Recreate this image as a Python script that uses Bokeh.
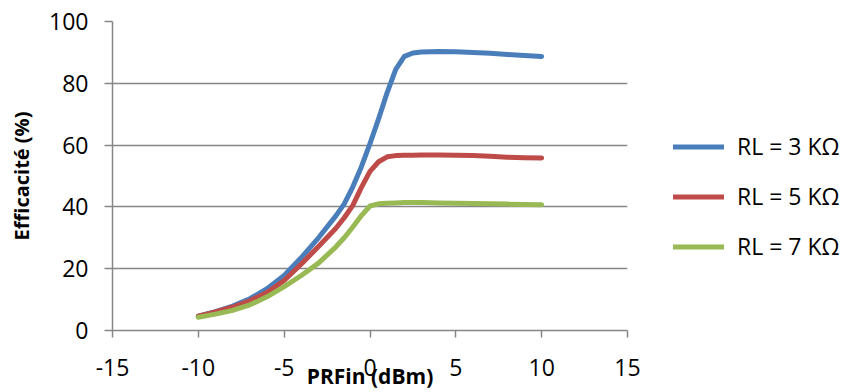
from bokeh.plotting import figure
from bokeh.models import Range1d, Legend, LegendItem, FixedTicker
from bokeh.embed import file_html
from bokeh.resources import INLINE

# ---- data ----
prf_in = [-10, -9, -8, -7, -6, -5, -4, -3, -2, -1.5, -1, -0.5, 0, 0.5, 1, 1.5, 2, 2.5, 3, 4, 5, 6, 7, 8, 9, 10]
eff_rl3 = [4.6, 6.1, 7.9, 10.3, 13.5, 17.8, 23.6, 30.0, 37.0, 41.0, 46.5, 53.0, 60.5, 68.5, 77.0, 84.5, 88.7, 89.8, 90.1, 90.3, 90.2, 90.0, 89.7, 89.3, 89.0, 88.7]
eff_rl5 = [4.6, 6.0, 7.6, 9.6, 12.3, 16.2, 21.5, 27.2, 33.0, 36.5, 40.5, 46.3, 51.5, 54.6, 56.2, 56.6, 56.7, 56.7, 56.8, 56.8, 56.7, 56.6, 56.4, 56.1, 55.9, 55.8]
eff_rl7 = [4.3, 5.3, 6.5, 8.3, 10.9, 14.2, 17.8, 21.8, 27.0, 30.0, 33.5, 37.2, 40.3, 41.0, 41.2, 41.3, 41.4, 41.4, 41.4, 41.3, 41.2, 41.1, 41.0, 40.9, 40.8, 40.7]
series_names = ["RL = 3 KΩ", "RL = 5 KΩ", "RL = 7 KΩ"]
series_colors = ["#4A7EBB", "#BE4B48", "#98B954"]
x_ticks = [-15, -10, -5, 0, 5, 10, 15]
y_ticks = [0, 20, 40, 60, 80, 100]
x_title = "PRFin (dBm)"
y_title = "Efficacité (%)"

FONT = "Open Sans"
GRID = "#868686"

p = figure(frame_width=515, frame_height=309, output_backend="svg", toolbar_location=None,
           x_range=Range1d(-15, 15), y_range=Range1d(0, 100),
           min_border_left=112, min_border_right=0, min_border_top=21, min_border_bottom=62)
p.outline_line_color = None
p.background_fill_color = "white"
p.border_fill_color = "white"

items = []
for ys, name, col in zip([eff_rl3, eff_rl5, eff_rl7], series_names, series_colors):
    r = p.line(prf_in, ys, line_color=col, line_width=5, line_cap="round", line_join="round")
    items.append(LegendItem(label=name, renderers=[r]))

# axes
for ax in (p.xaxis[0], p.yaxis[0]):
    ax.axis_line_color = GRID
    ax.axis_line_width = 1.5
    ax.major_tick_line_color = GRID
    ax.major_tick_line_width = 1.5
    ax.major_tick_in = 0
    ax.minor_tick_line_color = None
    ax.major_label_text_font = FONT
    ax.major_label_text_font_size = "23px"
    ax.major_label_text_color = "black"
    ax.axis_label_text_font = FONT
    ax.axis_label_text_font_style = "bold"
    ax.axis_label_text_color = "black"

xa, ya = p.xaxis[0], p.yaxis[0]
xa.ticker = FixedTicker(ticks=x_ticks)
ya.ticker = FixedTicker(ticks=y_ticks)
xa.major_label_overrides = {float(t): str(t) for t in x_ticks}
xa.major_tick_out = 7
xa.major_label_standoff = 21
xa.axis_label = x_title
xa.axis_label_text_font_size = "21px"
xa.axis_label_standoff = -17
ya.major_tick_out = 8
ya.major_label_standoff = 16
ya.axis_label = y_title
ya.axis_label_text_font_size = "20px"
ya.axis_label_standoff = 11

p.xgrid.grid_line_color = None
p.ygrid.grid_line_color = GRID
p.ygrid.grid_line_width = 1.5
p.ygrid.ticker = FixedTicker(ticks=y_ticks)

legend = Legend(items=items, location=(46, 68), orientation="vertical")
legend.label_text_font = FONT
legend.label_text_font_size = "23px"
legend.label_text_color = "black"
legend.glyph_width = 51
legend.glyph_height = 31
legend.label_height = 31
legend.label_standoff = 13
legend.spacing = 18
legend.padding = 0
legend.margin = 0
legend.border_line_color = None
legend.background_fill_alpha = 0
p.add_layout(legend, "right")

open("out.html", "w").write(file_html(p, INLINE))
